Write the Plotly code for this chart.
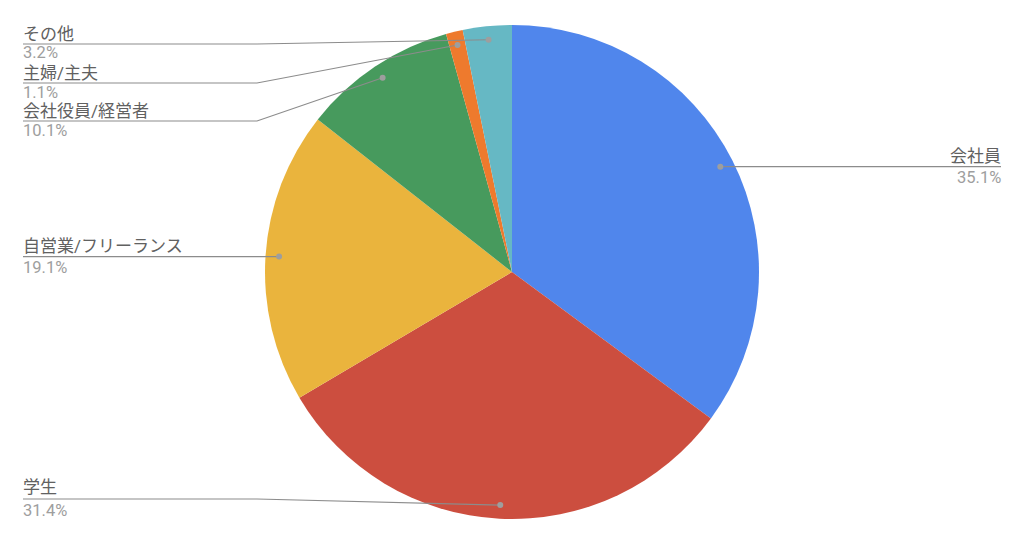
import math
import plotly.graph_objects as go

# ---- data ----
categories = ["会社員", "学生", "自営業/フリーランス", "会社役員/経営者", "主婦/主夫", "その他"]
values = [35.1, 31.4, 19.1, 10.1, 1.1, 3.2]
pct_labels = ["35.1%", "31.4%", "19.1%", "10.1%", "1.1%", "3.2%"]

# ---- style / layout ----
colors = ["#5086EC", "#CC4E3F", "#EAB43D", "#479A5D", "#EE7A2D", "#66B8C4"]
W, H = 1024, 544
CX, CY, R = 512, 272, 247          # pie centre / radius in px
DOT_R = 0.945                      # leader dot radius fraction
side = ["right", "left", "left", "left", "left", "left"]
label_y = [None, 499, None, 121, 83, 44]   # None -> use dot's y
name_off = [-11, -12, -11, -10, -10, -10]
pct_off = [11, 11, 11, 9, 9, 9]
ELBOW_X = 257
LEFT_X, RIGHT_X = 23, 1001
FONT = "Roboto, Noto Sans CJK JP, sans-serif"
NAME_COL, PCT_COL, LINE_COL = "#616161", "#9E9E9E", "#8C8C8C"


def px(x):
    return x / W


def py(y):
    return 1 - y / H


fig = go.Figure(go.Pie(
    labels=categories, values=values, sort=False, direction="clockwise",
    rotation=0, marker=dict(colors=colors, line=dict(width=0)),
    textinfo="none", hoverinfo="label+percent",
    domain=dict(x=[px(CX - R), px(CX + R)], y=[py(CY + R), py(CY - R)]),
))

shapes, annotations = [], []
total = sum(values)
cum = 0.0
for i, v in enumerate(values):
    mid = (cum + v / 2) / total * 2 * math.pi
    cum += v
    dx = CX + DOT_R * R * math.sin(mid)
    dy = CY - DOT_R * R * math.cos(mid)
    ly = label_y[i] if label_y[i] is not None else dy
    line = dict(color=LINE_COL, width=1.2)
    if side[i] == "right":
        shapes.append(dict(type="line", xref="paper", yref="paper",
                           x0=px(dx), y0=py(dy), x1=px(RIGHT_X), y1=py(dy), line=line))
        tx, anchor = RIGHT_X, "right"
        ly = dy
    else:
        if label_y[i] is None:
            shapes.append(dict(type="line", xref="paper", yref="paper",
                               x0=px(LEFT_X), y0=py(dy), x1=px(dx), y1=py(dy), line=line))
        else:
            shapes.append(dict(type="path", xref="paper", yref="paper",
                               path=f"M {px(LEFT_X)},{py(ly)} L {px(ELBOW_X)},{py(ly)} L {px(dx)},{py(dy)}",
                               line=line))
        tx, anchor = LEFT_X, "left"
    r = 3
    shapes.append(dict(type="circle", xref="paper", yref="paper",
                       x0=px(dx - r), x1=px(dx + r), y0=py(dy + r), y1=py(dy - r),
                       fillcolor="#9E9E9E", line=dict(width=0)))
    annotations.append(dict(x=px(tx), y=py(ly + name_off[i]), xref="paper", yref="paper",
                            text=categories[i], showarrow=False, xanchor=anchor, yanchor="middle",
                            xshift=-2 if anchor == "left" else 2,
                            font=dict(family=FONT, size=17, color=NAME_COL)))
    annotations.append(dict(x=px(tx), y=py(ly + pct_off[i]), xref="paper", yref="paper",
                            text=pct_labels[i], showarrow=False, xanchor=anchor, yanchor="middle",
                            xshift=-2 if anchor == "left" else 2,
                            font=dict(family=FONT, size=16.5, color=PCT_COL)))

fig.update_layout(width=W, height=H, margin=dict(l=0, r=0, t=0, b=0),
                  showlegend=False, paper_bgcolor="white", plot_bgcolor="white",
                  shapes=shapes, annotations=annotations)
fig.write_html("out.html", config={"displayModeBar": False},
               post_script="document.body.style.margin='0';")
